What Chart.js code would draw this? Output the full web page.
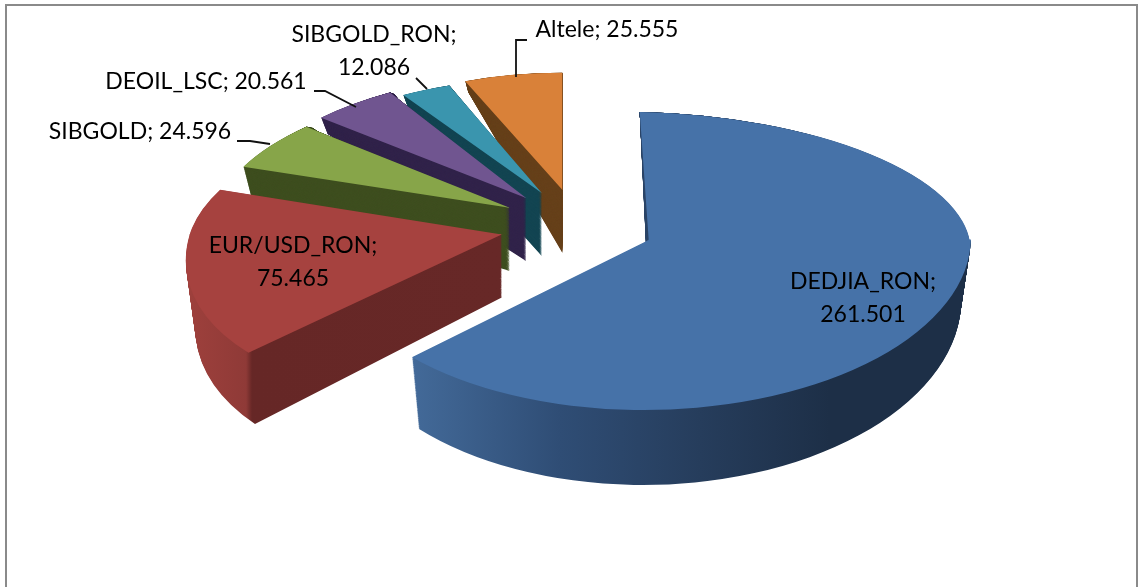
<!DOCTYPE html>
<html>
<head>
<meta charset="utf-8">
<title>Pie</title>
<style>
  html, body { margin: 0; padding: 0; background: #fff; }
  canvas { display: block; }
</style>
<script src="https://cdn.jsdelivr.net/npm/chart.js@4"></script>
</head>
<body>
<canvas id="chart" width="1140" height="587"></canvas>
<script>
const categories = ['DEDJIA_RON', 'EUR/USD_RON', 'SIBGOLD', 'DEOIL_LSC', 'SIBGOLD_RON', 'Altele'];
const values = [261501, 75465, 24596, 20561, 12086, 25555];

const faceColors = ['#4672a8', '#a6423f', '#87a549', '#705590', '#3a95ae', '#d98139'];
const wallColors = [
  [[411, '#436a99'], [560, '#2f4d75'], [700, '#263d5c'], [830, '#1d2f47'], [975, '#1d2f47']],
  [[180, '#a0413d'], [246, '#8f3a37'], [252, '#662726'], [505, '#672827']],
  '#3e4e1f', '#31234a', '#134552', '#66401a'
];
// fake 3D: per slice narrowing, lean and height, back slices are further away
const narrow = [0.99, 0.96, 0.9, 0.87, 0.86, 0.8];
const leanUp = [0.07, -0.3, -0.25, -0.14, -0.11, 0];
const leanDown = [-0.1, -0.3, 0, 0, 0, 0];
const tilt = [0.02, 0, 0, 0, 0, 0];
const ryUp = [128, 138, 126, 125, 116, 117];
const ryDown = [170, 165, 165, 165, 165, 165];
const depthUp = [0.48, 0.6, 0.76, 0.58, 0.52, 0.48];
const drawOrder = [5, 4, 3, 2, 1, 0];

const PIE_R = 325, EXPLODE_X = 77.4, EXPLODE_Y = 37;
const DEPTH = 63, DEPTH_DOWN = 0.07, SHRINK = 0.03;

const fmt = v => String(v).replace(/\B(?=(\d{3})+$)/g, '.');

function wallFill(ctx, spec, a, c, e) {
  if (typeof spec === 'string') return spec;
  // gradient that stays vertical on screen whatever the slice transform is
  const len = a * a + c * c, x0 = spec[0][0], x1 = spec[spec.length - 1][0];
  const p0 = (x0 - e) / len, p1 = (x1 - e) / len;
  const g = ctx.createLinearGradient(p0 * a, p0 * c, p1 * a, p1 * c);
  spec.forEach(s => g.addColorStop((s[0] - x0) / (x1 - x0), s[1]));
  return g;
}

function drawLayer(ctx, arc, i, t, spec) {
  const mid = (arc.startAngle + arc.endAngle) / 2;
  const ax = arc.x + EXPLODE_X * Math.cos(mid);
  const ay = arc.y + EXPLODE_Y * Math.sin(mid) + t * DEPTH;
  const a = narrow[i] * (1 - SHRINK * t);

  [true, false].forEach(up => {
    const s = (up ? ryUp[i] : ryDown[i]) / PIE_R;
    const d = s * (1 + t * (up ? depthUp[i] : DEPTH_DOWN));
    const c = (up ? leanUp[i] : leanDown[i]) * s;
    const e = ax - a * arc.x - c * arc.y;
    ctx.save();
    ctx.beginPath();
    if (up) ctx.rect(0, -100, 1140, ay + 100.5);
    else ctx.rect(0, ay - 0.5, 1140, 800);
    ctx.clip();
    ctx.transform(a, tilt[i], c, d, e, ay - d * arc.y - tilt[i] * arc.x);
    const shim = Object.create(arc);
    shim.options = {
      backgroundColor: wallFill(ctx, spec, a, c, e),
      borderWidth: 0, offset: 0, spacing: 0, circular: true, borderAlign: 'center'
    };
    Object.getPrototypeOf(arc).draw.call(shim, ctx);
    ctx.restore();
  });
}

const labels = [
  { i: 0, x: 863, y: 282, lines: 2 },
  { i: 1, x: 293, y: 246, lines: 2 },
  { i: 2, x: 140, y: 132, lines: 1 },
  { i: 3, x: 206, y: 82, lines: 1 },
  { i: 4, x: 374, y: 35, lines: 2 },
  { i: 5, x: 607, y: 30, lines: 1 }
];
const leaders = [
  [[237, 141], [250, 141], [270, 144]],
  [[314, 91], [325, 91], [356, 107]],
  [[416, 78], [427, 89]],
  [[527, 40], [516, 40], [516, 77]]
];

const pie3d = {
  id: 'pie3d',
  beforeDatasetsDraw(chart) {
    const ctx = chart.ctx;
    const arcs = chart.getDatasetMeta(0).data;
    drawOrder.forEach(i => {
      for (let n = 80; n >= 1; n--) drawLayer(ctx, arcs[i], i, n / 80, wallColors[i]);
      drawLayer(ctx, arcs[i], i, 0, faceColors[i]);
    });
    return false;
  },
  afterDraw(chart) {
    const ctx = chart.ctx;
    ctx.save();
    ctx.strokeStyle = '#8a8a8a';
    ctx.lineWidth = 2;
    ctx.strokeRect(6, 5, 1131, 600);

    ctx.strokeStyle = '#111';
    ctx.lineWidth = 1.8;
    leaders.forEach(pts => {
      ctx.beginPath();
      pts.forEach((p, n) => n ? ctx.lineTo(p[0], p[1]) : ctx.moveTo(p[0], p[1]));
      ctx.stroke();
    });

    ctx.fillStyle = '#000';
    ctx.font = '23px Lato';
    ctx.textAlign = 'center';
    ctx.textBaseline = 'middle';
    labels.forEach(l => {
      const name = categories[l.i] + ';', val = fmt(values[l.i]);
      if (l.lines === 2) {
        ctx.fillText(name, l.x, l.y);
        ctx.fillText(val, l.x, l.y + 33);
      } else {
        ctx.fillText(name + ' ' + val, l.x, l.y);
      }
    });
    ctx.restore();
  }
};

new Chart(document.getElementById('chart'), {
  type: 'pie',
  data: {
    labels: categories,
    datasets: [{ data: values, backgroundColor: faceColors, borderWidth: 0 }]
  },
  options: {
    responsive: false,
    animation: false,
    radius: PIE_R,
    rotation: 0,
    layout: { padding: { left: 14, bottom: 135 } },
    plugins: { legend: { display: false }, tooltip: { enabled: false } }
  },
  plugins: [pie3d]
});
</script>
</body>
</html>
